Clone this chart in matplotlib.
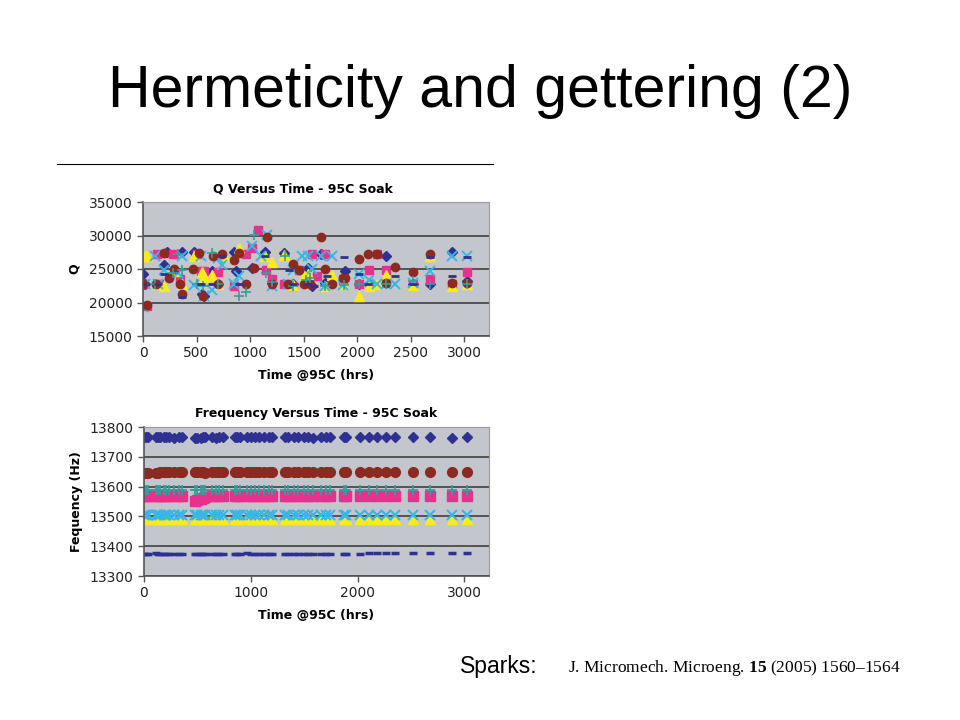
import numpy as np
import matplotlib.pyplot as plt

plt.rcParams['mathtext.fontset'] = 'custom'
plt.rcParams['mathtext.rm'] = 'Liberation Serif'
plt.rcParams['mathtext.bf'] = 'Liberation Serif:bold'

# ---- data ----
# Q vs time, one list pair per device
q_diamond_t = [0, 20, 130, 200, 220, 360, 480, 550, 570, 640, 700, 850, 870, 1020, 1140, 1200, 1320,
               1400, 1540, 1580, 1660, 1700, 1890, 2020, 2110, 2270, 2520, 2680, 2880, 3020]
q_diamond = [24200, 22800, 22800, 25600, 27600, 27600, 27600, 21300, 21000, 24700, 22800, 27600, 24700,
             25200, 27600, 22900, 27400, 22700, 25200, 22500, 27300, 22900, 24700, 22800, 22800, 27000,
             22700, 22700, 27600, 23200]

q_square_t = [0, 40, 130, 150, 280, 350, 500, 540, 570, 700, 850, 960, 1020, 1070, 1150, 1200, 1320,
              1400, 1460, 1580, 1620, 1700, 1870, 2020, 2110, 2180, 2270, 2520, 2680, 2880, 3020]
q_square = [22700, 19500, 27200, 22700, 27200, 23500, 27200, 24700, 24700, 24600, 22500, 27300, 28200,
            30800, 24900, 23500, 22700, 22500, 24800, 27200, 24000, 27200, 23500, 22700, 24800, 27200,
            24800, 22700, 23500, 22700, 24500]

q_triangle_t = [0, 20, 40, 130, 200, 300, 360, 480, 550, 570, 640, 700, 760, 900, 1140, 1200, 1320,
                1400, 1500, 1540, 1700, 1760, 1870, 2020, 2110, 2180, 2270, 2520, 2680, 2880, 3020]
q_triangle = [27000, 27000, 27000, 22700, 22500, 24700, 22700, 27000, 24600, 23800, 24100, 22800, 27000,
              28200, 27000, 26100, 27100, 22600, 24000, 24200, 22500, 24100, 22700, 20900, 22500, 22700,
              24100, 22600, 27000, 22500, 22800]

q_cross_t = [0, 20, 110, 140, 200, 330, 360, 480, 540, 570, 640, 700, 740, 850, 900, 1020, 1100, 1160,
             1200, 1350, 1400, 1480, 1540, 1580, 1660, 1700, 1760, 1870, 2020, 2110, 2180, 2270, 2350,
             2520, 2680, 2880, 3020]
q_cross = [19400, 22700, 27000, 22700, 24800, 24400, 27000, 22600, 27000, 21000, 21900, 26700, 25600,
           22700, 23900, 28400, 27000, 30100, 22500, 22800, 24900, 27000, 27000, 25000, 27000, 22500,
           27000, 22600, 24200, 23300, 22700, 22700, 22700, 22900, 24700, 27000, 27000]

q_star_t = [0, 130, 200, 280, 340, 480, 520, 570, 640, 700, 760, 850, 900, 1020, 1160, 1200, 1320, 1400,
            1440, 1540, 1580, 1660, 1760, 1870, 2020, 2110, 2180, 2270, 2350, 2520, 2680, 2880, 3020]
q_star = [22700, 22700, 24200, 27200, 24400, 22700, 24800, 22800, 22500, 22700, 22700, 24800, 23700,
          28300, 25800, 24500, 27200, 23000, 27200, 25200, 22800, 23300, 24900, 25000, 27200, 22700,
          22800, 27200, 22800, 22800, 22700, 27200, 22700]

q_circle_t = [0, 40, 120, 200, 240, 290, 350, 360, 470, 520, 560, 650, 700, 740, 850, 900, 960, 1040,
              1160, 1200, 1350, 1400, 1460, 1500, 1560, 1660, 1700, 1760, 1870, 1890, 2020, 2100, 2180,
              2270, 2350, 2520, 2680, 2880, 3020]
q_circle = [22800, 19700, 22800, 27400, 23700, 25000, 22800, 21200, 25000, 27400, 21000, 26900, 22800,
            27300, 26400, 27400, 22800, 25200, 29800, 22800, 22800, 25800, 24900, 22800, 22800, 29800,
            25000, 22800, 23600, 23600, 26500, 27300, 27300, 22900, 25300, 24500, 27300, 22900, 22900]

q_plus_t = [0, 110, 280, 330, 360, 500, 560, 640, 700, 900, 960, 1040, 1150, 1200, 1330, 1400, 1520,
            1560, 1700, 1880, 2020, 2270, 2520, 2680, 3020]
q_plus = [22700, 22800, 24400, 27200, 24900, 22700, 22500, 27400, 22700, 21000, 21500, 30100, 24400,
          23000, 27000, 22500, 23400, 23700, 22500, 22600, 22800, 22800, 23200, 22800, 22800]

q_dash_t = [0, 140, 200, 360, 540, 640, 740, 900, 1140, 1360, 1400, 1540, 1600, 1720, 1880, 2020, 2100,
            2350, 2520, 2680, 2880, 3020]
q_dash = [22700, 22700, 24200, 20800, 22700, 22700, 27000, 22700, 27000, 24900, 22700, 22700, 22500,
          24000, 26800, 24200, 22800, 24000, 22800, 26800, 24000, 26800]

# frequency vs time, shared time grid
f_t = [0, 20, 40, 110, 130, 150, 190, 210, 230, 280, 330, 360, 480, 500, 530, 550, 570, 640, 670, 700,
       740, 850, 870, 900, 960, 1000, 1040, 1080, 1120, 1170, 1200, 1320, 1350, 1400, 1440, 1500, 1540,
       1580, 1660, 1700, 1740, 1870, 1890, 2020, 2110, 2180, 2270, 2350, 2520, 2680, 2880, 3020]
f_diamond = [13765, 13765, 13765, 13766, 13766, 13766, 13766, 13766, 13766, 13764, 13765, 13766, 13762,
             13762, 13764, 13765, 13766, 13765, 13764, 13766, 13766, 13766, 13766, 13766, 13766, 13766,
             13766, 13766, 13766, 13766, 13766, 13766, 13766, 13766, 13766, 13766, 13765, 13763, 13765,
             13766, 13766, 13766, 13766, 13766, 13765, 13766, 13766, 13766, 13766, 13766, 13762, 13766]
f_circle = [13647, 13647, 13647, 13646, 13647, 13648, 13650, 13650, 13650, 13650, 13650, 13650, 13650,
            13650, 13650, 13648, 13646, 13650, 13650, 13650, 13650, 13650, 13650, 13650, 13650, 13650,
            13650, 13650, 13650, 13650, 13650, 13650, 13650, 13650, 13650, 13650, 13650, 13650, 13650,
            13650, 13650, 13650, 13650, 13650, 13650, 13650, 13650, 13650, 13650, 13650, 13650, 13650]
f_star = [13585] * 52
f_plus = [13587] * 52
f_square = [13568, 13568, 13568, 13568, 13568, 13568, 13568, 13568, 13568, 13568, 13568, 13568, 13552,
            13556, 13560, 13563, 13566, 13568, 13568, 13568, 13568, 13568, 13568, 13568, 13568, 13568,
            13568, 13568, 13568, 13568, 13568, 13568, 13568, 13568, 13568, 13568, 13568, 13568, 13568,
            13568, 13568, 13568, 13568, 13568, 13568, 13568, 13568, 13568, 13568, 13568, 13568, 13568]
f_cross = [13505] * 52
f_triangle = [13490] * 52
f_dash = [13375, 13375, 13375, 13377, 13375, 13375, 13375, 13375, 13375, 13375, 13375, 13375, 13375,
          13375, 13375, 13375, 13375, 13375, 13375, 13375, 13375, 13375, 13375, 13375, 13377, 13375,
          13375, 13375, 13375, 13375, 13375, 13375, 13375, 13375, 13375, 13375, 13375, 13375, 13375,
          13375, 13375, 13375, 13375, 13375, 13377, 13378, 13378, 13376, 13378, 13376, 13376, 13376]

NAVY = '#2E3192'
PINK = '#E8308C'
YELLOW = '#F7EC1A'
CYAN = '#38B6E8'
PURPLE = '#8E3C96'
BROWN = '#8A2A20'
TEAL = '#3A9C9C'
BG = '#C3C6CC'


def style_axes(ax):
    ax.set_facecolor(BG)
    for s in ['top', 'right']:
        ax.spines[s].set_color('#9A9A9A')
        ax.spines[s].set_linewidth(0.8)
    for s in ['left', 'bottom']:
        ax.spines[s].set_color('#555555')
        ax.spines[s].set_linewidth(1.2)
    ax.grid(axis='y', color='#4A4A4A', linewidth=1.3)
    ax.set_axisbelow(True)
    ax.tick_params(direction='out', length=4, width=1, colors='#555555', labelcolor='#222222',
                   labelsize=10)
    ax.set_xlim(0, 3230)


fig = plt.figure(figsize=(9.6, 7.2), dpi=100)
fig.text(0.5, 0.873, 'Hermeticity and gettering (2)', ha='center', va='center',
         family='Liberation Sans', fontsize=42.5)
fig.add_artist(plt.Line2D([57 / 960, 493 / 960], [1 - 164 / 720] * 2, color='black', linewidth=0.8))

# Q chart
ax1 = fig.add_axes([143 / 960, 1 - 336 / 720, 346 / 960, 134 / 720])
style_axes(ax1)
ms = 5.5
ax1.plot(q_diamond_t, q_diamond, 'D', color=NAVY, ms=ms - 0.5, ls='none')
ax1.plot(q_square_t, q_square, 's', color=PINK, ms=ms, ls='none')
ax1.plot(q_triangle_t, q_triangle, '^', color=YELLOW, ms=ms + 1, ls='none')
ax1.plot(q_cross_t, q_cross, 'x', color=CYAN, ms=ms + 1, mew=1.4, ls='none')
ax1.plot(q_star_t, q_star, (6, 2, 0), color=PURPLE, ms=ms + 1, mew=1.2, ls='none')
ax1.plot(q_circle_t, q_circle, 'o', color=BROWN, ms=ms + 0.5, ls='none')
ax1.plot(q_plus_t, q_plus, '+', color=TEAL, ms=ms + 1, mew=1.2, ls='none')
ax1.plot(q_dash_t, q_dash, '_', color=NAVY, ms=ms, mew=2, ls='none')
ax1.set_ylim(15000, 35000)
ax1.set_yticks(np.arange(15000, 35001, 5000))
ax1.set_xticks(np.arange(0, 3001, 500))
ax1.set_title('Q Versus Time - 95C Soak', fontsize=9, fontweight='bold', pad=7, x=0.463)
ax1.set_xlabel('Time @95C (hrs)', fontsize=9, fontweight='bold', labelpad=6)
ax1.set_ylabel('Q', fontsize=9, fontweight='bold', labelpad=6)

# Frequency chart
ax2 = fig.add_axes([144 / 960, 1 - 576 / 720, 345 / 960, 149 / 720])
style_axes(ax2)
fm = 7
ax2.plot(f_t, f_diamond, 'D', color=NAVY, ms=fm - 1.5, ls='none')
ax2.plot(f_t, f_circle, 'o', color=BROWN, ms=fm, ls='none')
ax2.plot(f_t, f_square, 's', color=PINK, ms=fm - 0.5, ls='none')
ax2.plot(f_t, f_plus, '+', color=TEAL, ms=fm, mew=1.3, ls='none')
ax2.plot(f_t, f_star, (6, 2, 0), color=PURPLE, ms=fm, mew=1.1, ls='none')
ax2.plot(f_t, f_triangle, '^', color=YELLOW, ms=fm + 0.5, ls='none')
ax2.plot(f_t, f_cross, 'x', color=CYAN, ms=fm, mew=1.5, ls='none')
ax2.plot(f_t, f_dash, '_', color=NAVY, ms=fm - 1, mew=2.5, ls='none')
ax2.set_ylim(13300, 13800)
ax2.set_yticks(np.arange(13300, 13801, 100))
ax2.set_xticks(np.arange(0, 3001, 1000))
ax2.set_title('Frequency Versus Time - 95C Soak', fontsize=9, fontweight='bold', pad=7)
ax2.set_xlabel('Time @95C (hrs)', fontsize=9, fontweight='bold', labelpad=6)
ax2.set_ylabel('Fequency (Hz)', fontsize=9, fontweight='bold', labelpad=5)

# citation footer
fig.text(460 / 960, 1 - 667 / 720, 'Sparks:', family='Liberation Sans', fontsize=16.5, va='center')
fig.text(568 / 960, 1 - 668 / 720, r'J. Micromech. Microeng. $\mathbf{15}$ (2005) 1560–1564',
         family='Liberation Serif', fontsize=12.5, va='center')

fig.savefig('out.png', dpi=100)
